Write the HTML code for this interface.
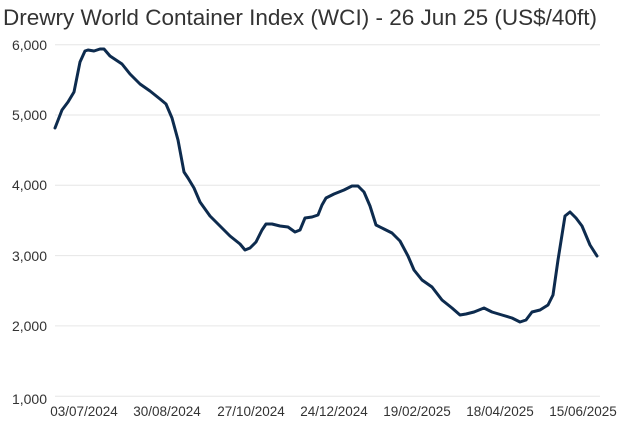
<!DOCTYPE html>
<html><head><meta charset="utf-8"><style>
body{margin:0;background:#fff;width:626px;height:430px;overflow:hidden}
svg{display:block}
text{font-family:"Liberation Sans",Arial,sans-serif;fill:#333}
</style></head><body>
<svg width="626" height="430" viewBox="0 0 626 430">
<text x="3" y="25" font-size="22" textLength="594" lengthAdjust="spacingAndGlyphs">Drewry World Container Index (WCI) - 26 Jun 25 (US$/40ft)</text>
<g stroke="#e6e6e6" stroke-width="1">
<line x1="55" x2="600" y1="44.7" y2="44.7"/>
<line x1="55" x2="600" y1="115" y2="115"/>
<line x1="55" x2="600" y1="185.3" y2="185.3"/>
<line x1="55" x2="600" y1="255.6" y2="255.6"/>
<line x1="55" x2="600" y1="325.9" y2="325.9"/>
<line x1="55" x2="600" y1="396.2" y2="396.2"/>
</g>
<g font-size="14" text-anchor="end">
<text x="47" y="50">6,000</text>
<text x="47" y="120">5,000</text>
<text x="47" y="190">4,000</text>
<text x="47" y="261">3,000</text>
<text x="47" y="331">2,000</text>
<text x="47" y="404">1,000</text>
</g>
<g font-size="13.5" text-anchor="middle">
<text x="84" y="416">03/07/2024</text>
<text x="167" y="416">30/08/2024</text>
<text x="251" y="416">27/10/2024</text>
<text x="334" y="416">24/12/2024</text>
<text x="417" y="416">19/02/2025</text>
<text x="500" y="416">18/04/2025</text>
<text x="583" y="416">15/06/2025</text>
</g>
<polyline fill="none" stroke="#0d2b4e" stroke-width="3" stroke-linejoin="round" stroke-linecap="round" points="55,128 62,110 68,102 74,92 80,62 85,51 88,50 94,51 100,49 104,49 110,56 116,60 122,64 130,74 140,84 150,91 160,99 166,104 172,118 178,140 184,172 188,178 194,188 200,202 210,216 220,226 230,236 240,244 245,250 250,248 256,242 262,230 266,224 272,224 280,226 288,227 295,232 300,230 305,218 312,217 318,215 322,205 326,198 334,194 344,190 352,186 358,186 364,192 370,206 376,225 384,229 392,233 400,241 408,256 414,270 422,280 432,287 442,300 452,308 460,315 466,314 474,312 484,308 492,312 502,315 512,318 520,322 526,320 532,312 540,310 548,305 553,295 558,260 565,216 570,212 576,218 582,226 590,245 597,256"/>
</svg>
</body></html>
